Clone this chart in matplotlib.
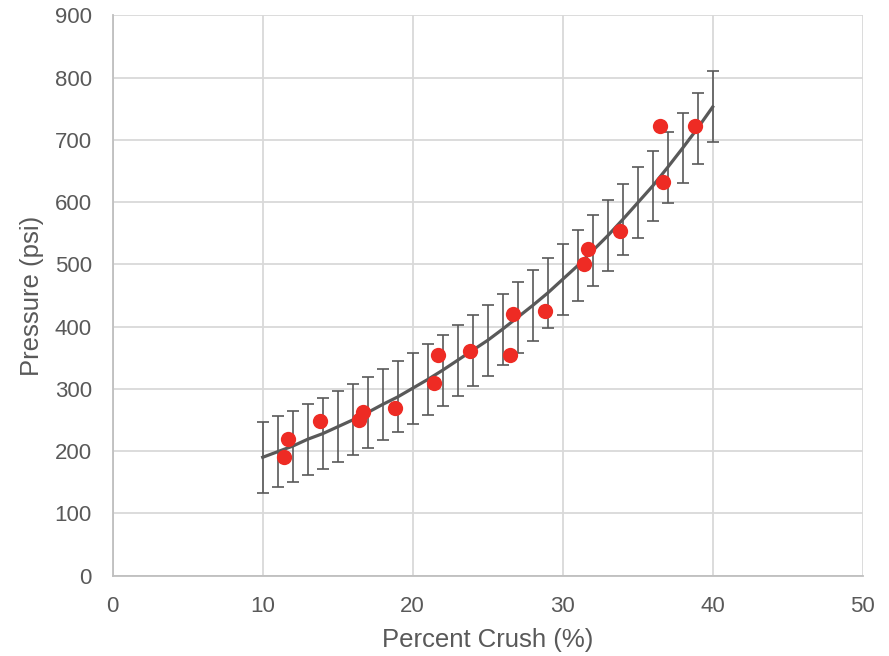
import numpy as np
import matplotlib
matplotlib.use("Agg")
import matplotlib.pyplot as plt

plt.rcParams['font.family'] = ['Liberation Sans', 'DejaVu Sans']

# measured points
crush = [11.44, 11.71, 13.82, 16.44, 16.71, 18.82, 21.44, 21.71, 23.82,
         26.49, 26.71, 28.82, 31.44, 31.71, 33.82, 36.49, 36.71, 38.82]
pressure = [191, 220, 249, 250, 262, 270, 310, 354, 360,
            354, 420, 425, 500, 525, 553, 722, 632, 722]

# fitted curve read at each whole percent, with its error band
fit_x = list(range(10, 41))
fit_y = [190, 199, 208, 219, 228, 239, 250, 262, 275, 287, 301, 315, 330,
         346, 362, 378, 396, 415, 434, 454, 476, 498, 522, 546, 572, 599,
         626, 656, 687, 719, 753]
fit_err = 57

x_ticks = [0, 10, 20, 30, 40, 50]
y_ticks = [0, 100, 200, 300, 400, 500, 600, 700, 800, 900]

grey = '#595959'
fig = plt.figure(figsize=(8.89, 6.56), dpi=100)
ax = fig.add_axes([0.1268, 0.1227, 0.8436, 0.8537])

ax.errorbar(fit_x, fit_y, yerr=fit_err, fmt='none', ecolor=grey,
            elinewidth=1.2, capsize=4.6, capthick=1.2, zorder=2)
ax.plot(fit_x, fit_y, color=grey, lw=2.3, zorder=3)
ax.plot(crush, pressure, 'o', color='#EE2B24', ms=11, mec='none', zorder=4)

ax.set_xlim(0, 50)
ax.set_ylim(0, 900)
ax.set_xticks(x_ticks)
ax.set_yticks(y_ticks)
ax.grid(True, color='#D9D9D9', lw=1.3, zorder=0)
ax.set_axisbelow(True)
for side in ['top', 'right']:
    ax.spines[side].set_visible(False)
for side in ['left', 'bottom']:
    ax.spines[side].set_color('#BFBFBF')
    ax.spines[side].set_linewidth(1.3)
ax.tick_params(length=0, pad=15, labelsize=16, labelcolor=grey)

ax.set_xlabel('Percent Crush (%)', fontsize=18.5, color=grey, labelpad=8)
ax.set_ylabel('Pressure (psi)', fontsize=18.5, color=grey, labelpad=8)

fig.savefig('out.png', dpi=100)
